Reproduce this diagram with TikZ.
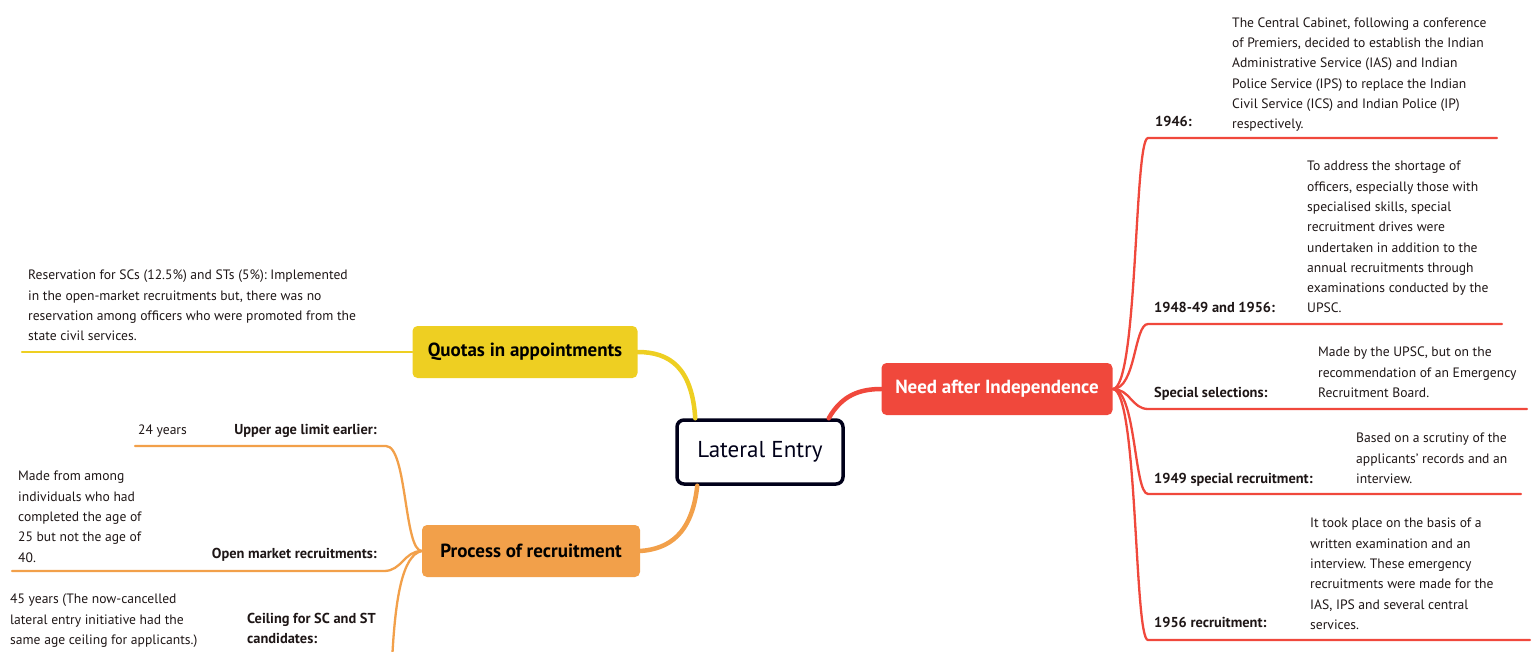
\documentclass[tikz,border=0pt]{standalone}
\usepackage{fontspec}
\setmainfont{PT Sans}
\frenchspacing
\definecolor{cred}{RGB}{240,72,60}
\definecolor{cyel}{RGB}{238,207,34}
\definecolor{corg}{RGB}{242,160,74}
\definecolor{ctxt}{RGB}{30,22,22}
\begin{document}
\begin{tikzpicture}[x=1pt,y=-1pt,
  txt/.style={inner sep=0pt, align=left, anchor=north west, text=ctxt, font=\fontsize{13.6}{20.3}\selectfont},
  lbl/.style={txt, font=\bfseries\fontsize{14.4}{20.3}\selectfont},
  central/.style={draw=black!90!blue, line width=3.5pt, rounded corners=7pt, fill=white, minimum width=166, minimum height=64, font=\fontsize{23}{26}\selectfont, text=black!90!blue},
  topic/.style={rounded corners=5pt, minimum height=52, inner xsep=4pt, font=\bfseries\fontsize{19}{21}\selectfont},
  mainlink/.style={line width=4.5pt, line cap=round},
  sublink/.style={line width=2.3pt, line cap=round}]
\useasboundingbox (0,0) rectangle (1533,651);
\clip (0,0) rectangle (1533,651);

% main nodes
\node[central] (le) at (760,452) {Lateral Entry};
\node[topic, fill=cred, text=white, minimum width=231] (need) at (997,389) {Need after Independence};
\node[topic, fill=cyel, text=black, minimum width=225] (quota) at (525,352) {Quotas in appointments};
\node[topic, fill=corg, text=black, minimum width=218] (proc) at (531,551) {Process of recruitment};

% main connectors
\draw[mainlink, cred] ([xshift=-16pt]le.north east) .. controls (842,395) and (860,389) .. (need.west);
\draw[mainlink, cyel] ([xshift=20pt]le.north west) .. controls (692,368) and (670,352) .. (quota.east);
\draw[mainlink, corg] ([xshift=22pt]le.south west) .. controls (692,535) and (668,549) .. (proc.east);

% ---------- Quotas branch
\coordinate (qend) at (22,352);
\draw[sublink, cyel] (quota.west) -- (qend);
\node[txt] (qtxt) at (28,270) {Reservation for SCs (12.5\%) and STs (5\%): Implemented\\in the open-market recruitments but, there was no\\reservation among officers who were promoted from the\\state civil services.};

% ---------- Process branch
\coordinate (ua1) at (386,446);
\coordinate (ua2) at (135,446);
\coordinate (om1) at (384,571);
\coordinate (om2) at (12,571);
\coordinate (ce1) at (392,662);
\draw[sublink, corg] (proc.west) .. controls (404,551) and (407,446) .. (ua1) -- (ua2);
\draw[sublink, corg] (proc.west) .. controls (404,551) and (402,571) .. (om1) -- (om2);
\draw[sublink, corg] (proc.west) .. controls (402,555) and (395,600) .. (ce1);
\node[lbl, anchor=north east] (ualbl) at (377,424) {Upper age limit earlier:};
\node[txt] (uatxt) at (138,424.5) {24 years};
\node[lbl, anchor=north east] (omlbl) at (377,548) {Open market recruitments:};
\node[txt] (omtxt) at (18,471) {Made from among\\individuals who had\\completed the age of\\25 but not the age of\\40.};
\node[lbl] (celbl) at (247,613) {Ceiling for SC and ST\\candidates:};
\node[txt] (cetxt) at (10,594) {45 years (The now-cancelled\\lateral entry initiative had the\\same age ceiling for applicants.)};

% ---------- Need branch
\coordinate (a1) at (1148,138);  \coordinate (a2) at (1497,138);
\coordinate (b1) at (1148,324);  \coordinate (b2) at (1502,324);
\coordinate (c1) at (1148,409);  \coordinate (c2) at (1527,409);
\coordinate (d1) at (1148,494);  \coordinate (d2) at (1521,494);
\coordinate (e1) at (1148,640);  \coordinate (e2) at (1530,640);
\draw[sublink, cred] (need.east) .. controls (1138,389) and (1134,138) .. (a1) -- (a2);
\draw[sublink, cred] (need.east) .. controls (1136,389) and (1134,324) .. (b1) -- (b2);
\draw[sublink, cred] (need.east) .. controls (1130,389) and (1132,409) .. (c1) -- (c2);
\draw[sublink, cred] (need.east) .. controls (1136,389) and (1134,494) .. (d1) -- (d2);
\draw[sublink, cred] (need.east) .. controls (1138,389) and (1134,640) .. (e1) -- (e2);

\node[lbl] (albl) at (1155,116) {1946:};
\node[txt] (atxt) at (1232,17.5) {The Central Cabinet, following a conference\\of Premiers, decided to establish the Indian\\Administrative Service (IAS) and Indian\\Police Service (IPS) to replace the Indian\\Civil Service (ICS) and Indian Police (IP)\\respectively.};
\node[lbl] (blbl) at (1154,302) {1948-49 and 1956:};
\node[txt] (btxt) at (1307,161) {To address the shortage of\\officers, especially those with\\specialised skills, special\\recruitment drives were\\undertaken in addition to the\\annual recruitments through\\examinations conducted by the\\UPSC.};
\node[lbl] (clbl) at (1154,387) {Special selections:};
\node[txt] (ctxt) at (1318,347) {Made by the UPSC, but on the\\recommendation of an Emergency\\Recruitment Board.};
\node[lbl] (dlbl) at (1154,473) {1949 special recruitment:};
\node[txt] (dtxt) at (1356,433) {Based on a scrutiny of the\\applicants' records and an\\interview.};
\node[lbl] (elbl) at (1154,617) {1956 recruitment:};
\node[txt] (etxt) at (1310,518) {It took place on the basis of a\\written examination and an\\interview. These emergency\\recruitments were made for the\\IAS, IPS and several central\\services.};
\end{tikzpicture}
\end{document}
